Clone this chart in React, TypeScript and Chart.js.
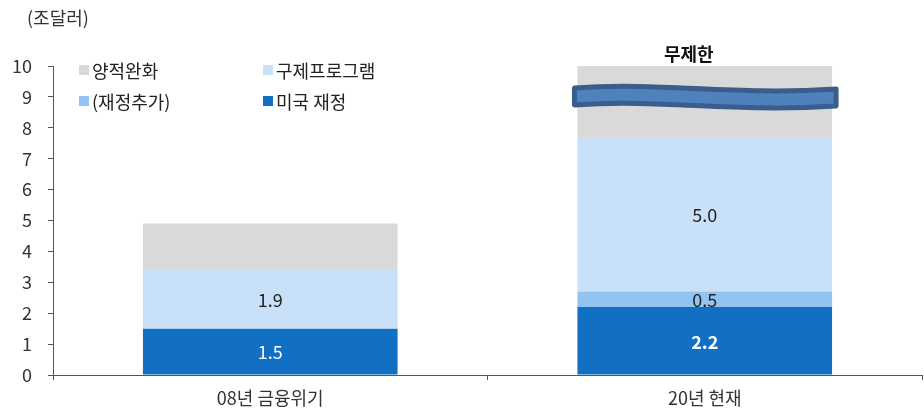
import React, { useEffect, useRef } from "react";
import { Chart, registerables } from "chart.js";

Chart.register(...registerables);

const categories = ["08년 금융위기", "20년 현재"];
const usFiscal = [1.5, 2.2];
const extraFiscal = [0, 0.5];
const reliefPrograms = [1.9, 5.0];
const quantEasing = [1.5, 2.3];
const yTicks = [0, 1, 2, 3, 4, 5, 6, 7, 8, 9, 10];
const unitLabel = "(조달러)";
const unlimitedLabel = "무제한";

const FONT = "'Noto Sans CJK KR', 'Noto Sans', sans-serif";

export default function App() {
  const ref = useRef<HTMLCanvasElement | null>(null);

  useEffect(() => {
    if (!ref.current) return;

    const overlay = {
      id: "overlay",
      afterDatasetsDraw(chart: any) {
        const ctx = chart.ctx;
        const ys = chart.scales.y;
        const labelSets = [0, 1, 2];
        ctx.save();
        ctx.textAlign = "center";
        ctx.textBaseline = "middle";
        labelSets.forEach((di) => {
          const meta = chart.getDatasetMeta(di);
          const ds = chart.data.datasets[di];
          meta.data.forEach((el: any, i: number) => {
            const v = ds.data[i] as number;
            if (!v) return;
            const cy = (el.y + el.base) / 2;
            const bold = di === 0 && i === 1;
            ctx.font = `${bold ? "bold" : "normal"} 18px ${FONT}`;
            ctx.fillStyle = di === 0 ? "#ffffff" : "#222222";
            ctx.fillText(v.toFixed(1), el.x, cy + 1);
          });
        });
        const topMeta = chart.getDatasetMeta(3);
        const bar = topMeta.data[1] as any;
        ctx.font = `bold 18px ${FONT}`;
        ctx.fillStyle = "#111111";
        ctx.fillText(unlimitedLabel, bar.x - 16, bar.y - 12);

        // wavy band
        const half = bar.width / 2;
        const L = bar.x - half - 3;
        const R = bar.x + half + 4;
        const w = R - L;
        const cy = ys.getPixelForValue(9);
        ctx.beginPath();
        ctx.moveTo(L, cy - 9);
        ctx.bezierCurveTo(L + 0.35 * w, cy - 15, L + 0.6 * w, cy - 1, R, cy - 8);
        ctx.lineTo(R, cy + 9);
        ctx.bezierCurveTo(L + 0.6 * w, cy + 16, L + 0.35 * w, cy + 2, L, cy + 8);
        ctx.closePath();
        ctx.fillStyle = "#4f81bd";
        ctx.fill();
        ctx.lineWidth = 5;
        ctx.lineJoin = "round";
        ctx.strokeStyle = "#3b5d8c";
        ctx.stroke();

        // unit label
        ctx.textAlign = "left";
        ctx.font = `18px ${FONT}`;
        ctx.fillStyle = "#333333";
        ctx.fillText(unitLabel, 27, 18);

        // legend
        const legendOrder = [3, 2, 1, 0];
        const pos = [
          [79, 70],
          [263, 70],
          [79, 101],
          [263, 101],
        ];
        legendOrder.forEach((di, k) => {
          const ds = chart.data.datasets[di];
          const [lx, ly] = pos[k];
          ctx.fillStyle = ds.backgroundColor as string;
          ctx.fillRect(lx, ly - 5, 10, 10);
          ctx.fillStyle = "#222222";
          ctx.font = `18px ${FONT}`;
          ctx.fillText(ds.label, lx + 13, ly + 1);
        });
        ctx.restore();
      },
    };

    const chart = new Chart(ref.current, {
      type: "bar",
      data: {
        labels: categories,
        datasets: [
          { label: "미국 재정", data: usFiscal, backgroundColor: "#1270c4" },
          { label: "(재정추가)", data: extraFiscal, backgroundColor: "#92c4f2" },
          { label: "구제프로그램", data: reliefPrograms, backgroundColor: "#c9e1f8" },
          { label: "양적완화", data: quantEasing, backgroundColor: "#d9d9d9" },
        ],
      },
      options: {
        responsive: false,
        animation: false,
        layout: { padding: { top: 66, left: 0, right: 2, bottom: 0 } },
        datasets: {
          bar: { barPercentage: 0.586, categoryPercentage: 1, borderWidth: 0 },
        },
        plugins: {
          legend: { display: false },
          tooltip: { enabled: false },
        },
        scales: {
          x: {
            stacked: true,
            afterFit(scale: any) {
              scale.height = 35;
            },
            grid: {
              display: true,
              drawOnChartArea: false,
              drawTicks: true,
              tickLength: 5,
              color: "#555555",
              offset: true,
            },
            border: { display: true, color: "#555555", width: 1 },
            ticks: {
              color: "#333333",
              font: { family: FONT, size: 18 },
              padding: 7,
            },
          },
          y: {
            stacked: true,
            min: 0,
            max: 10,
            afterFit(scale: any) {
              scale.width = 53;
            },
            afterBuildTicks(scale: any) {
              scale.ticks = yTicks.map((v) => ({ value: v }));
            },
            grid: {
              display: true,
              drawOnChartArea: false,
              drawTicks: true,
              tickLength: 5,
              color: "#555555",
            },
            border: { display: true, color: "#555555", width: 1 },
            ticks: {
              color: "#333333",
              font: { family: FONT, size: 18 },
              padding: 16,
            },
          },
        },
      },
      plugins: [overlay],
    });

    return () => chart.destroy();
  }, []);

  return (
    <div style={{ position: "absolute", left: 0, top: 0, width: 924, height: 410, background: "#fff" }}>
      <canvas ref={ref} width={924} height={410} />
    </div>
  );
}
